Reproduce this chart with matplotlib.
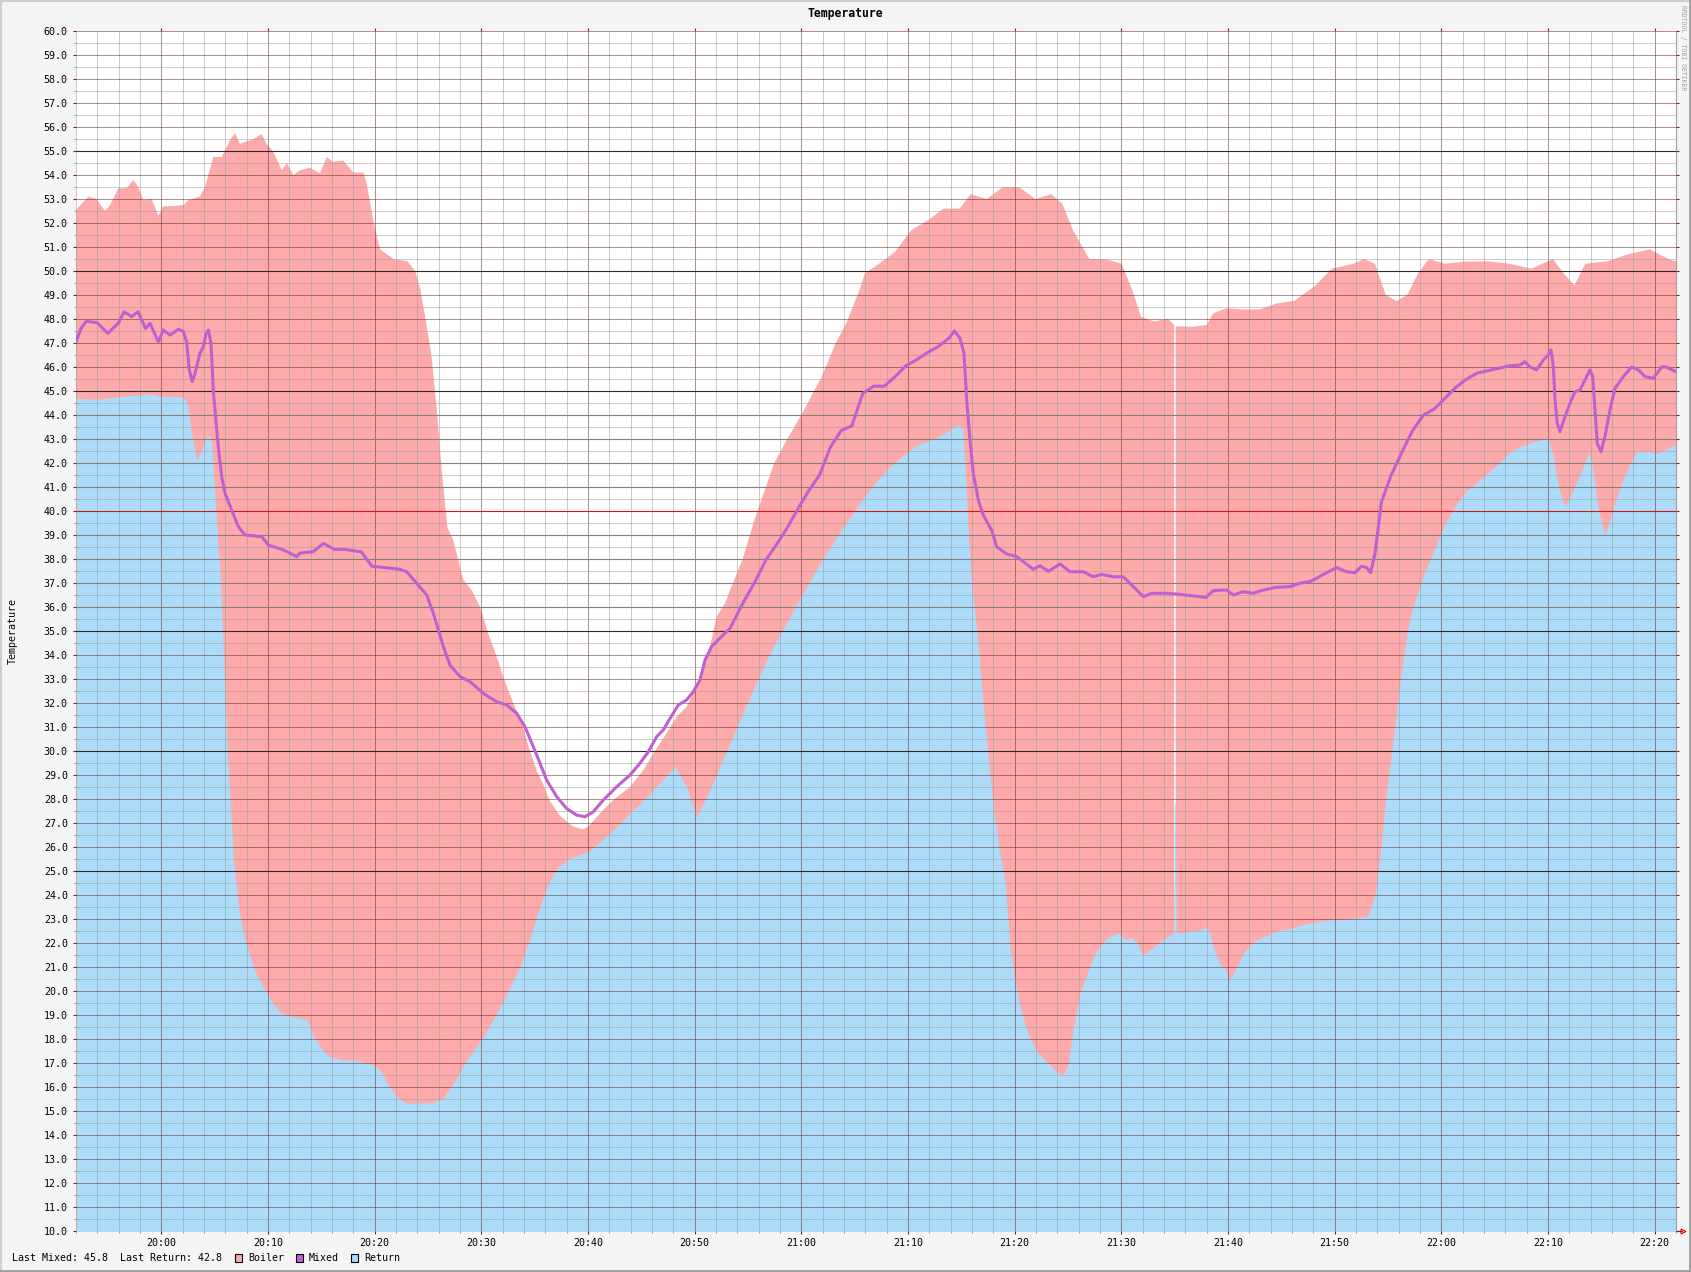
import matplotlib
matplotlib.use("Agg")
import matplotlib.pyplot as plt
import numpy as np
from matplotlib.ticker import MultipleLocator, FuncFormatter
from matplotlib.patches import Rectangle
from matplotlib.lines import Line2D

START = 19 * 60 + 52  # 19:52, minutes of the day

# minutes after 19:52 / degrees
boiler_t = [0.0, 0.53, 1.16, 1.94, 2.72, 3.19, 3.97, 4.75, 5.37, 5.84, 6.31, 7.09, 7.72, 8.19, 9.1,
            10.06, 10.53, 11.62, 12.09, 12.87, 13.66, 14.44, 14.91, 15.37, 16.0, 16.62, 17.4, 17.87,
            18.5, 19.28, 19.75, 20.37, 21.0, 21.94, 22.87, 23.5, 24.1, 25.06, 26.0, 26.94, 27.25,
            27.87, 28.5, 29.78, 31.09, 31.8, 32.3, 32.81, 33.32, 33.82, 34.33, 34.83, 35.37, 36.31,
            37.09, 37.87, 38.65, 39.44, 40.22, 41.0, 41.78, 42.56, 43.19, 43.81, 44.44, 45.37,
            46.62, 47.56, 48.03, 49.12, 50.37, 51.94, 53.19, 54.12, 55.37, 56.31, 57.25, 58.19,
            58.81, 59.44, 60.06, 60.84, 61.31, 62.5, 63.65, 65.46, 66.68, 68.0, 69.91, 71.23,
            72.24, 73.45, 73.96, 75.27, 76.79, 78.3, 79.82, 81.34, 82.85, 83.87, 85.38, 86.9,
            88.41, 89.93, 91.45, 92.46, 93.47, 94.99, 96.5, 98.02, 99.03, 99.84, 101.05, 102.4,
            102.95, 103.02, 103.1, 104.75, 106.0, 106.62, 107.87, 109.44, 111.0, 112.56, 114.2,
            116.22, 117.73, 119.76, 120.77, 121.78, 122.79, 123.8, 124.81, 125.82, 126.83,
            128.35, 130.37, 132.39, 134.4, 136.44, 138.46, 139.47, 140.48, 141.49, 143.51,
            145.54, 147.56, 149.27, 150.0]
boiler_v = [52.54, 52.8, 53.1, 53.0, 52.5, 52.75, 53.45, 53.45, 53.8, 53.5, 52.95, 53.0, 52.3, 52.7, 52.7,
            52.75, 52.95, 53.1, 53.5, 54.75, 54.75, 55.45, 55.75, 55.3, 55.4, 55.5, 55.7, 55.3,
            54.97, 54.2, 54.5, 54.0, 54.2, 54.3, 54.07, 54.75, 54.55, 54.6, 54.1, 54.1, 53.65,
            52.1, 50.9, 50.5, 50.4, 50.0, 49.2, 47.9, 46.5, 44.25, 41.5, 39.3, 38.79, 37.13,
            36.71, 36.01, 34.9, 33.93, 32.89, 31.99, 31.2, 30.0, 29.2, 28.6, 27.9, 27.3,
            26.85, 26.74, 26.85, 27.4, 27.96, 28.51, 29.2, 29.9, 30.74, 31.43, 31.85, 32.68,
            33.51, 34.35, 35.6, 36.15, 36.7, 38.0, 39.7, 42.0, 43.0, 44.0, 45.6, 47.0,
            47.85, 49.2, 49.9, 50.3, 50.8, 51.7, 52.1, 52.6, 52.6, 53.2, 53.0, 53.5,
            53.5, 53.0, 53.2, 52.8, 51.7, 50.5, 50.5, 50.3, 49.2, 48.1, 47.9, 48.0,
            47.75, np.nan, 47.7, 47.68, 47.75, 48.24, 48.45, 48.4, 48.4, 48.65, 48.75,
            49.4, 50.1, 50.3, 50.5, 50.3, 49.0, 48.75, 49.0, 49.9, 50.5,
            50.3, 50.4, 50.4, 50.3, 50.1, 50.5, 49.9, 49.4, 50.3, 50.4,
            50.7, 50.9, 50.5, 50.4]

mixed_t = [0.0, 0.46, 0.96, 1.97, 2.99, 4.0, 4.5, 5.21, 5.82, 6.52, 6.94, 7.72, 8.19, 8.81, 9.59,
           10.06, 10.37, 10.62, 10.9, 11.16, 11.62, 11.94, 12.19, 12.41, 12.66, 12.87, 13.19,
           13.44, 13.66, 13.97, 14.59, 15.22, 15.84, 17.41, 18.03, 19.44, 20.69, 21.0, 22.2,
           23.2, 24.22, 25.23, 26.74, 27.75, 28.76, 29.78, 30.37, 31.0, 31.94, 32.88, 33.5,
           34.44, 35.06, 36.0, 36.94, 38.19, 39.44, 40.37, 41.31, 42.09, 42.87, 43.5, 44.12,
           45.06, 46.0, 46.94, 47.72, 48.5, 49.44, 50.69, 51.94, 52.87, 53.66, 54.44, 55.06,
           55.69, 56.47, 57.25, 57.87, 58.5, 58.97, 59.59, 60.37, 61.31, 62.63, 63.65, 64.66,
           65.67, 66.68, 67.69, 68.7, 69.71, 70.72, 71.73, 72.74, 73.76, 74.77, 75.78, 76.79,
           77.8, 78.81, 79.82, 80.83, 81.84, 82.35, 82.87, 83.25, 83.5, 83.81, 84.12, 84.59,
           85.06, 85.84, 86.31, 87.25, 88.19, 88.81, 89.75, 90.37, 91.15, 92.25, 93.19, 94.43,
           95.37, 96.16, 97.25, 98.19, 99.12, 100.06, 100.84, 102.25, 103.19, 104.75, 105.94,
           106.62, 107.87, 108.5, 109.44, 110.37, 111.31, 112.56, 113.81, 114.75, 115.69,
           116.31, 117.25, 118.19, 119.12, 119.9, 120.53, 121.0, 121.37, 121.78, 122.1, 122.4,
           123.3, 124.3, 125.3, 126.33, 127.34, 128.35, 129.36, 130.37, 131.38, 132.39, 134.4,
           135.37, 135.84, 136.3, 136.94, 137.56, 138.03, 138.28, 138.5, 138.66, 138.87,
           139.12, 139.59, 140.06, 140.53, 141.0, 141.47, 141.94, 142.19, 142.41, 142.62,
           142.97, 143.34, 143.81, 144.28, 145.06, 145.84, 146.47, 147.09, 147.87, 148.66,
           149.12, 150.0]
mixed_v = [47.05, 47.6, 47.9, 47.85, 47.4, 47.85, 48.3, 48.1, 48.3, 47.6, 47.82, 47.05, 47.54, 47.33, 47.57,
           47.48, 47.05, 45.88, 45.39, 45.74, 46.57, 46.85, 47.4, 47.54, 46.99, 45.04, 43.38,
           42.26, 41.43, 40.74, 40.04, 39.35, 39.0, 38.93, 38.58, 38.38, 38.1, 38.25, 38.3,
           38.65, 38.4, 38.4, 38.3, 37.7, 37.65, 37.6, 37.57, 37.47, 36.99, 36.5, 35.74,
           34.35, 33.58, 33.1, 32.89, 32.4, 32.05, 31.92, 31.57, 31.01, 30.18, 29.49, 28.79,
           28.1, 27.6, 27.33, 27.26, 27.47, 27.96, 28.51, 29.0, 29.49, 29.97, 30.6, 30.88,
           31.36, 31.92, 32.13, 32.47, 32.96, 33.79, 34.35, 34.7, 35.11, 36.25, 37.05, 37.95,
           38.6, 39.3, 40.1, 40.85, 41.5, 42.65, 43.35, 43.55, 44.9, 45.2, 45.2, 45.6,
           46.05, 46.3, 46.6, 46.85, 47.2, 47.5, 47.2, 46.57, 44.63, 42.96, 41.57, 40.46,
           39.83, 39.2, 38.51, 38.21, 38.1, 37.89, 37.57, 37.72, 37.49, 37.79, 37.47, 37.47,
           37.26, 37.36, 37.26, 37.26, 36.85, 36.43, 36.57, 36.57, 36.54, 36.46, 36.4,
           36.68, 36.71, 36.5, 36.64, 36.57, 36.71, 36.82, 36.85, 36.99, 37.06,
           37.2, 37.43, 37.64, 37.47, 37.43, 37.7, 37.64, 37.43, 38.24, 39.35, 40.4,
           41.5, 42.45, 43.35, 44.0, 44.25, 44.7, 45.15, 45.5, 45.75, 45.85, 46.05,
           46.08, 46.22, 46.0, 45.88, 46.29, 46.5, 46.71, 46.0, 44.63, 43.65,
           43.3, 43.93, 44.49, 44.97, 45.04, 45.46, 45.88, 45.6, 44.21, 42.82,
           42.47, 43.1, 44.21, 45.11, 45.6, 46.0, 45.88, 45.6, 45.53, 46.0,
           46.0, 45.8]

return_t = [0.0, 1.97, 5.0, 6.94, 7.72, 10.06, 10.44, 10.84, 11.31, 11.78, 12.25, 12.5, 12.72, 12.87,
            13.09, 13.34, 13.5, 13.8, 14.2, 14.8, 15.3, 15.8, 16.8, 18.15, 19.16, 20.17, 21.69,
            22.2, 23.2, 23.81, 25.06, 26.0, 27.87, 28.5, 29.28, 30.06, 31.0, 33.5, 34.44, 35.37,
            36.62, 38.19, 39.44, 40.69, 41.62, 42.41, 43.19, 43.81, 44.44, 45.22, 46.31, 47.56,
            48.19, 50.37, 52.25, 54.12, 56.16, 57.25, 58.19, 59.12, 60.37, 61.31, 62.63, 63.65,
            64.66, 65.67, 66.68, 67.69, 68.7, 69.71, 70.72, 71.73, 72.74, 73.76, 74.77, 75.78,
            76.79, 77.8, 78.81, 79.82, 80.83, 81.84, 82.65, 83.1, 83.34, 83.65, 83.97, 84.44,
            85.2, 86.0, 86.6, 87.1, 87.56, 88.03, 88.5, 89.12, 90.06, 91.0, 91.94, 92.56, 93.03,
            93.5, 94.12, 94.9, 95.69, 96.62, 97.56, 98.03, 98.34, 98.97, 99.44, 100.0, 100.69,
            101.62, 102.56, 102.9, 102.97, 103.08, 103.15, 103.81, 104.75, 106.0, 106.25,
            106.62, 107.25, 107.72, 108.12, 108.5, 109.44, 110.37, 111.62, 112.87, 113.81,
            115.2, 117.2, 119.25, 121.07, 121.78, 122.29, 122.79, 123.3, 123.8, 124.3, 124.81,
            125.32, 126.33, 127.34, 128.35, 129.36, 130.37, 131.38, 132.39, 133.4, 134.4,
            135.37, 136.62, 138.03, 138.5, 138.97, 139.59, 140.37, 141.16, 141.78, 142.09,
            142.72, 143.34, 143.97, 144.75, 145.69, 146.31, 147.3, 148.19, 149.0, 150.0]
return_v = [44.7, 44.65, 44.8, 44.88, 44.8, 44.74, 44.49, 43.24, 42.13, 42.54, 43.1, 43.15, 42.82, 41.7,
            40.18, 38.38, 37.54, 34.3, 29.8, 25.3, 23.3, 22.2, 20.8, 19.7, 19.1, 18.95, 18.8,
            18.15, 17.5, 17.26, 17.13, 17.13, 16.92, 16.71, 16.08, 15.6, 15.32, 15.35, 15.53, 16.15,
            17.13, 18.1, 19.07, 20.18, 21.01, 21.99, 23.1, 23.93, 24.63, 25.18, 25.53, 25.74,
            25.85, 26.71, 27.54, 28.38, 29.35, 28.51, 27.26, 28.1, 29.35, 30.32, 31.7, 32.7,
            33.7, 34.6, 35.4, 36.2, 37.0, 37.8, 38.5, 39.2, 39.85, 40.5, 41.1, 41.6,
            42.05, 42.4, 42.75, 42.9, 43.1, 43.35, 43.6, 43.5, 41.85, 39.03, 36.99, 35.04,
            31.2, 27.6, 25.8, 24.6, 21.85, 20.46, 19.35, 18.38, 17.47, 17.05, 16.64, 16.5, 16.99,
            18.5, 19.9, 20.88, 21.71, 22.2, 22.4, 22.33, 22.15, 22.22, 22.05, 21.5, 21.71,
            22.05, 22.33, 22.4, 27.8, 27.8, 22.42, 22.43, 22.5, 22.64, 22.5,
            21.85, 21.15, 20.94, 20.49, 20.74, 21.57, 22.05, 22.33, 22.54, 22.6,
            22.8, 22.95, 23.0, 23.1, 24.0, 25.8, 28.05, 29.85, 31.65, 33.45, 35.0,
            36.0, 37.3, 38.4, 39.5, 40.25, 40.85, 41.2, 41.6, 42.0, 42.45,
            42.68, 42.89, 43.03, 42.26, 41.0, 40.18, 40.88, 41.71, 42.4, 42.12,
            40.04, 39.0, 39.9, 41.0, 41.99, 42.47, 42.47, 42.4, 42.54, 42.8]

grey_rules = [36, 37, 38, 39, 41, 42, 43, 44]
black_rules = [25, 30, 35, 45, 50, 55]
red_rules = [40]

BOILER = '#ffaaaa'
MIXED = '#c060d0'
RETURN = '#acdcfa'
MONO = 'DejaVu Sans Mono'
FS = 7.2

W, H = 1691, 1272
fig = plt.figure(figsize=(W / 100, H / 100), dpi=100, facecolor='#f5f5f5')
ax = fig.add_axes([76 / W, (H - 1231) / H, 1600 / W, 1200 / H])
ax.set_facecolor('white')

bt = START + np.array(boiler_t)
mt = START + np.array(mixed_t)
rt = START + np.array(return_t)

ax.fill_between(bt, 0, boiler_v, color=BOILER, lw=0, zorder=1)
ax.fill_between(rt, 0, return_v, color=RETURN, lw=0, zorder=1.1)

for v in grey_rules:
    ax.axhline(v, color='#808080', lw=0.8, zorder=3)
for v in black_rules:
    ax.axhline(v, color='#302828', lw=0.8, zorder=3)
for v in red_rules:
    ax.axhline(v, color='#d01818', lw=0.8, zorder=3)

ax.plot(mt, mixed_v, color=MIXED, lw=2.2, solid_joinstyle='round', zorder=5)

ax.set_xlim(START, START + 150)
ax.set_ylim(10, 60)

ax.xaxis.set_major_locator(MultipleLocator(10))
ax.xaxis.set_minor_locator(MultipleLocator(2))
ax.yaxis.set_major_locator(MultipleLocator(1))
ax.yaxis.set_minor_locator(MultipleLocator(0.5))
ax.xaxis.set_major_formatter(FuncFormatter(
    lambda m, pos: '%02d:%02d' % (int(round(m)) // 60, int(round(m)) % 60)))
ax.yaxis.set_major_formatter(FuncFormatter(lambda v, pos: '%.1f' % v))

ax.set_axisbelow(False)
ax.grid(which='minor', color='#9a9a9a', linestyle=(0, (1, 1)), linewidth=0.72)
ax.grid(which='major', color='#5a2828', linestyle=(0, (1, 1)), linewidth=0.72)

ax.tick_params(which='major', direction='out', length=2.4, width=0.8, color='#8a1a1a',
               labelsize=FS, pad=2.5, right=True, top=True)
ax.tick_params(which='minor', direction='out', length=1.4, width=0.6, color='#909090',
               right=False, top=False)
ax.tick_params(axis='y', which='major', pad=3.5)
for lab in ax.get_xticklabels() + ax.get_yticklabels():
    lab.set_family(MONO)

for s in ['left', 'top', 'bottom']:
    ax.spines[s].set_visible(False)
ax.spines['right'].set_color('#a0a0a0')
ax.spines['right'].set_linewidth(0.8)

# axis arrow at the right end
ax.plot([1.0, 1.0035], [0, 0], transform=ax.transAxes, color='#cc0000', lw=0.8, clip_on=False)
ax.plot([1.0045], [0], transform=ax.transAxes, marker='>', ms=3.5, mfc='none', mec='#cc0000',
        mew=0.8, clip_on=False)

# texts
fig.text(0.5, 1 - 14 / H, 'Temperature', ha='center', va='center', family=MONO,
         fontweight='bold', size=8.3)
fig.text(13 / W, 1 - 631 / H, 'Temperature', rotation=90, ha='center', va='center',
         family=MONO, size=FS)
fig.text(1683 / W, 1 - 48 / H, 'RRDTOOL / TOBI OETIKER', rotation=270, ha='center',
         va='center', family=MONO, size=4.7, color='#a0a0a0')

ly = 1 - 1258 / H
fig.text(12.5 / W, ly, 'Last Mixed: %.1f' % mixed_v[-1], ha='left', va='center',
         family=MONO, size=FS)
fig.text(120.5 / W, ly, 'Last Return: %.1f' % return_v[-1], ha='left', va='center',
         family=MONO, size=FS)
for bx, col, name in [(235, BOILER, 'Boiler'), (296, MIXED, 'Mixed'), (351, RETURN, 'Return')]:
    fig.add_artist(Rectangle((bx / W, 1 - 1262.3 / H), 7.3 / W, 8 / H, transform=fig.transFigure,
                             facecolor=col, edgecolor='black', lw=0.8))
    fig.text((bx + 13) / W, ly, name, ha='left', va='center', family=MONO, size=FS)

# canvas frame
fig.add_artist(Line2D([0, 1], [1 - 1 / H, 1 - 1 / H], transform=fig.transFigure, color='#cfcfcf', lw=1.5))
fig.add_artist(Line2D([1 / W, 1 / W], [0, 1], transform=fig.transFigure, color='#cfcfcf', lw=1.5))
fig.add_artist(Line2D([0, 1], [1.5 / H, 1.5 / H], transform=fig.transFigure, color='#9e9e9e', lw=2))
fig.add_artist(Line2D([1 - 1.5 / W, 1 - 1.5 / W], [0, 1], transform=fig.transFigure, color='#9e9e9e', lw=2))

fig.savefig('out.png', dpi=100, facecolor=fig.get_facecolor())
